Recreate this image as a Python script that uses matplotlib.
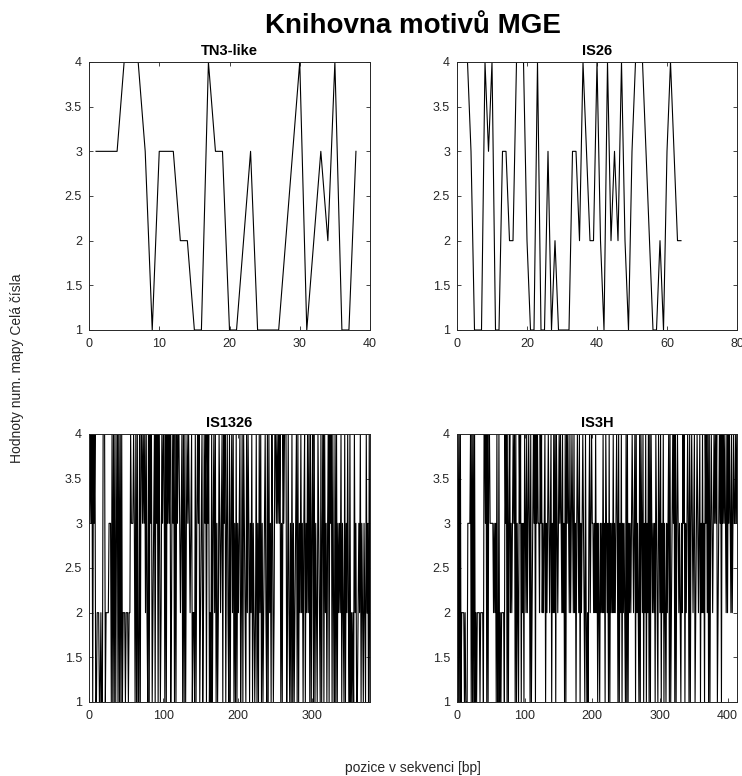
from matplotlib import pyplot as plt

plt.rcParams['font.family'] = ['Liberation Sans', 'DejaVu Sans']

# data (nucleotides mapped to integers 1..4)
tn3_like = [3, 3, 3, 3, 4, 4, 4, 3, 1, 3, 3, 3, 2, 2, 1, 1, 4, 3, 3, 1,
            1, 2, 3, 1, 1, 1, 1, 2, 3, 4, 1, 2, 3, 2, 4, 1, 1, 3]

is26 = [4, 4, 4, 3, 1, 1, 1, 4, 3, 4, 1, 1, 3, 3, 2, 2, 4, 4, 4, 2,
        1, 1, 4, 1, 1, 3, 1, 2, 1, 1, 1, 1, 3, 3, 2, 4, 3, 2, 2, 4,
        2, 1, 4, 2, 3, 2, 4, 2, 1, 3, 4, 4, 4, 3, 2, 1, 1, 2, 1, 3,
        4, 3, 2, 2]

# long sequences written as digit strings, one group = 10 positions
is1326_txt = ('3434143411 2221121144 4122223331 4141413414 1414122212 '
              '2212243334 3141411414 4343424214 1434123414 3414312434 '
              '4141434341 2434141434 4323414141 3434323412 2141343412 '
              '3412434143 4121413424 1312432341 4341342141 3424131413 '
              '2341241432 1424313241 3212413142 4131234214 1423143124 '
              '4343434131 4344412421 3141312341 4132423134 1324241413 '
              '4141321432 1413414231 3414341421 4141323241 3214132421 '
              '4121214231 1232413213 21423141')

is3h_txt = ('4141412222 1211133334 1414141212 2221222214 4341414433 '
            '3332323141 1412122221 4341413423 2343414132 1434132314 '
            '3242343141 2343414343 3243423234 1323432341 3242414323 '
            '4343242314 1434324234 3242313432 4132343214 2121342343 '
            '3232423132 1323242314 3231413232 4232343141 3241323214 '
            '1413232343 2341423214 1432413241 3241414323 2314321432 '
            '4132413213 2341412343 4141343232 1324341323 4314134323 '
            '4123432341 3242314342 4141343234 3434123434 1434343242 '
            '4343242343 3434')

is1326 = [int(c) for c in is1326_txt.replace(' ', '')]
is3h = [int(c) for c in is3h_txt.replace(' ', '')]

names = ['TN3-like', 'IS26', 'IS1326', 'IS3H']
series = [tn3_like, is26, is1326, is3h]
x_limits = [40, 80, 378, 414]
x_ticks = [[0, 10, 20, 30, 40],
           [0, 20, 40, 60, 80],
           [0, 100, 200, 300],
           [0, 100, 200, 300, 400]]
y_ticks = [1, 1.5, 2, 2.5, 3, 3.5, 4]
y_tick_labels = ['1', '1.5', '2', '2.5', '3', '3.5', '4']

W, H = 742, 776
fig = plt.figure(figsize=(W / 100, H / 100), dpi=100)

# axes boxes in pixels: left, top, right, bottom
boxes = [(89, 62, 370, 330), (457, 62, 737, 330),
         (89, 434, 370, 702), (457, 434, 737, 702)]

axis_color = '#262626'
for name, vals, xmax, xt, box in zip(names, series, x_limits, x_ticks, boxes):
    l, t, r, b = box
    ax = fig.add_axes([l / W, 1 - b / H, (r - l) / W, (b - t) / H])
    xs = list(range(1, len(vals) + 1))
    ax.plot(xs, vals, color='black', linewidth=0.8)
    ax.set_xlim(0, xmax)
    ax.set_ylim(1, 4)
    ax.set_xticks(xt)
    ax.set_yticks(y_ticks)
    ax.set_yticklabels(y_tick_labels)
    ax.tick_params(direction='in', top=True, right=True, length=3,
                   width=0.6, labelsize=9, colors=axis_color)
    ax.tick_params(axis='x', pad=6)
    ax.tick_params(axis='y', pad=5)
    for sp in ax.spines.values():
        sp.set_color(axis_color)
        sp.set_linewidth(0.7)
    ax.set_title(name, fontsize=10.5, fontweight='bold', pad=5)

# shared title and labels
fig.text(413 / W, 1 - 26 / H, 'Knihovna motivů MGE', fontsize=20,
         fontweight='bold', ha='center', va='center')
fig.text(413 / W, 1 - 768 / H, 'pozice v sekvenci [bp]', fontsize=10,
         ha='center', va='center', color=axis_color)
fig.text(17 / W, 1 - 368 / H, 'Hodnoty num. mapy Celá čísla', fontsize=10,
         ha='center', va='center', rotation=90, color=axis_color)

plt.savefig('out.png', dpi=100)
